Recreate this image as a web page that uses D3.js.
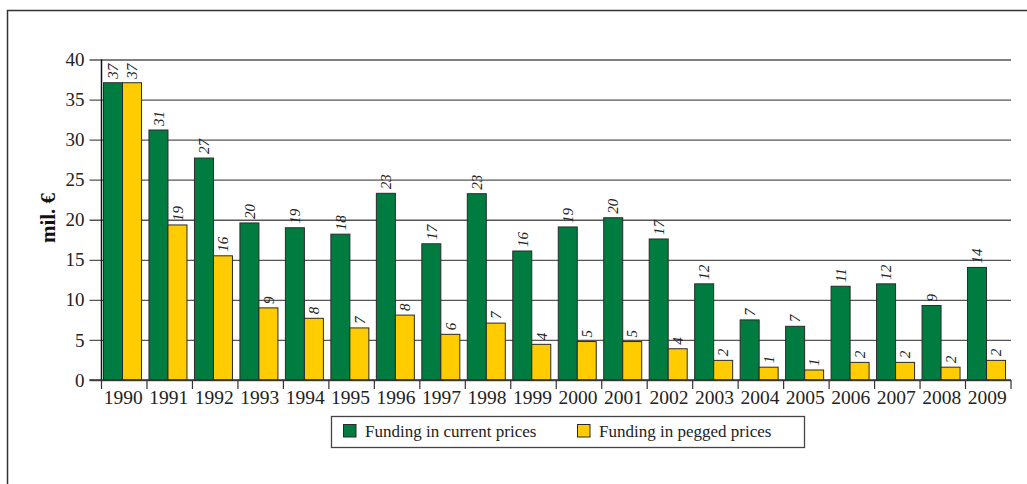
<!DOCTYPE html>
<html>
<head>
<meta charset="utf-8">
<script src="https://cdn.jsdelivr.net/npm/d3@7"></script>
<style>
  html, body { margin: 0; padding: 0; background: #fff; }
  svg { display: block; }
</style>
</head>
<body>
<div id="chart"></div>
<script>
const WIDTH = 1027;
const HEIGHT = 484;

// values (mil. €)
const years = ['1990','1991','1992','1993','1994','1995','1996','1997','1998','1999',
               '2000','2001','2002','2003','2004','2005','2006','2007','2008','2009'];
const currentPrices = [37.1, 31.2, 27.7, 19.6, 19.0, 18.2, 23.3, 17.0, 23.25, 16.1,
                       19.1, 20.25, 17.6, 12.0, 7.5, 6.7, 11.7, 12.0, 9.3, 14.05];
const peggedPrices  = [37.1, 19.35, 15.5, 9.0, 7.7, 6.5, 8.1, 5.7, 7.1, 4.45,
                       4.8, 4.8, 3.9, 2.45, 1.6, 1.25, 2.2, 2.2, 1.6, 2.45];
const currentLabels = [37, 31, 27, 20, 19, 18, 23, 17, 23, 16, 19, 20, 17, 12, 7, 7, 11, 12, 9, 14];
const peggedLabels  = [37, 19, 16, 9, 8, 7, 8, 6, 7, 4, 5, 5, 4, 2, 1, 1, 2, 2, 2, 2];
const seriesNames = ['Funding in current prices', 'Funding in pegged prices'];
const yTicks = [0, 5, 10, 15, 20, 25, 30, 35, 40];

const colors = ['#007c40', '#ffcc00'];
const serif = '"Liberation Serif", "DejaVu Serif", serif';

const plot = { left: 101.5, right: 1011, top: 59.5, bottom: 380 };

const svg = d3.select('#chart').append('svg')
  .attr('width', WIDTH)
  .attr('height', HEIGHT)
  .attr('viewBox', `0 0 ${WIDTH} ${HEIGHT}`);

// outer frame (runs off the right and bottom edges)
svg.append('rect')
  .attr('x', 7.5).attr('y', 10.5)
  .attr('width', WIDTH).attr('height', HEIGHT)
  .attr('fill', 'none')
  .attr('stroke', '#333')
  .attr('stroke-width', 1.5);

const x0 = d3.scaleBand()
  .domain(years)
  .range([plot.left, plot.right]);

const x1 = d3.scaleBand()
  .domain([0, 1])
  .range([2, 40]);

const y = d3.scaleLinear()
  .domain([0, 40])
  .range([plot.bottom, plot.top]);

// gridlines + y ticks
const yAxis = svg.append('g')
  .attr('transform', `translate(${plot.left},0)`)
  .call(d3.axisLeft(y).tickValues(yTicks).tickSize(12).tickPadding(5)
    .tickFormat(d3.format('d')));
yAxis.select('.domain').remove();
yAxis.selectAll('.tick line')
  .attr('stroke', '#555')
  .attr('stroke-width', 1.3)
  .attr('x2', plot.right - plot.left)
  .attr('x1', -12);
yAxis.selectAll('.tick text')
  .attr('font-family', serif)
  .attr('font-size', 19)
  .attr('fill', '#222');

// bars
const rows = years.map((yr, i) => ({
  year: yr,
  vals: [currentPrices[i], peggedPrices[i]],
  labs: [currentLabels[i], peggedLabels[i]]
}));

const groups = svg.append('g')
  .selectAll('g')
  .data(rows)
  .join('g')
  .attr('transform', d => `translate(${x0(d.year)},0)`);

groups.selectAll('rect')
  .data(d => d.vals.map((v, k) => ({ v, k })))
  .join('rect')
  .attr('x', d => x1(d.k))
  .attr('y', d => y(d.v))
  .attr('width', x1.bandwidth())
  .attr('height', d => y(0) - y(d.v))
  .attr('fill', d => colors[d.k])
  .attr('stroke', '#2a2a2a')
  .attr('stroke-width', 1);

groups.selectAll('text')
  .data(d => d.vals.map((v, k) => ({ v, k, lab: d.labs[k] })))
  .join('text')
  .attr('transform', d => `translate(${x1(d.k) + x1.bandwidth() / 2},${y(d.v) - 4}) rotate(-90)`)
  .attr('dy', '0.35em')
  .attr('text-anchor', 'start')
  .attr('font-family', serif)
  .attr('font-style', 'italic')
  .attr('font-size', 15)
  .attr('fill', '#222')
  .text(d => d.lab);

// axes lines
svg.append('line')
  .attr('x1', plot.left).attr('x2', plot.left)
  .attr('y1', plot.top).attr('y2', plot.bottom)
  .attr('stroke', '#111').attr('stroke-width', 1.5);

const xAxis = svg.append('g')
  .attr('transform', `translate(0,${plot.bottom})`);
xAxis.append('line')
  .attr('x1', plot.left - 12).attr('x2', plot.right)
  .attr('stroke', '#333').attr('stroke-width', 1.5);
xAxis.selectAll('line.tick')
  .data(years.concat(['end']))
  .join('line')
  .attr('class', 'tick')
  .attr('x1', d => d === 'end' ? plot.right : x0(d))
  .attr('x2', d => d === 'end' ? plot.right : x0(d))
  .attr('y1', 0).attr('y2', 9)
  .attr('stroke', '#333').attr('stroke-width', 1.2);
xAxis.selectAll('text')
  .data(years)
  .join('text')
  .attr('x', d => x0(d) + x0.bandwidth() / 2 - 1)
  .attr('y', 24)
  .attr('text-anchor', 'middle')
  .attr('font-family', serif)
  .attr('font-size', 19.5)
  .attr('fill', '#222')
  .text(d => d);

// y axis title
svg.append('text')
  .attr('transform', `translate(54.5,218) rotate(-90)`)
  .attr('text-anchor', 'middle')
  .attr('font-family', serif)
  .attr('font-weight', 'bold')
  .attr('font-size', 21)
  .attr('fill', '#111')
  .text('mil. €');

// legend
const legend = svg.append('g');
legend.append('rect')
  .attr('x', 331.5).attr('y', 416.5)
  .attr('width', 473).attr('height', 31)
  .attr('fill', '#fff')
  .attr('stroke', '#444')
  .attr('stroke-width', 1.3);

const legendX = [343.5, 577.5];
seriesNames.forEach((name, k) => {
  legend.append('rect')
    .attr('x', legendX[k]).attr('y', 424.5)
    .attr('width', 12.5).attr('height', 12.5)
    .attr('fill', colors[k])
    .attr('stroke', '#2a2a2a')
    .attr('stroke-width', 1);
  legend.append('text')
    .attr('x', legendX[k] + 21.5)
    .attr('y', 437)
    .attr('font-family', serif)
    .attr('font-size', 17)
    .attr('fill', '#222')
    .text(name);
});
</script>
</body>
</html>
